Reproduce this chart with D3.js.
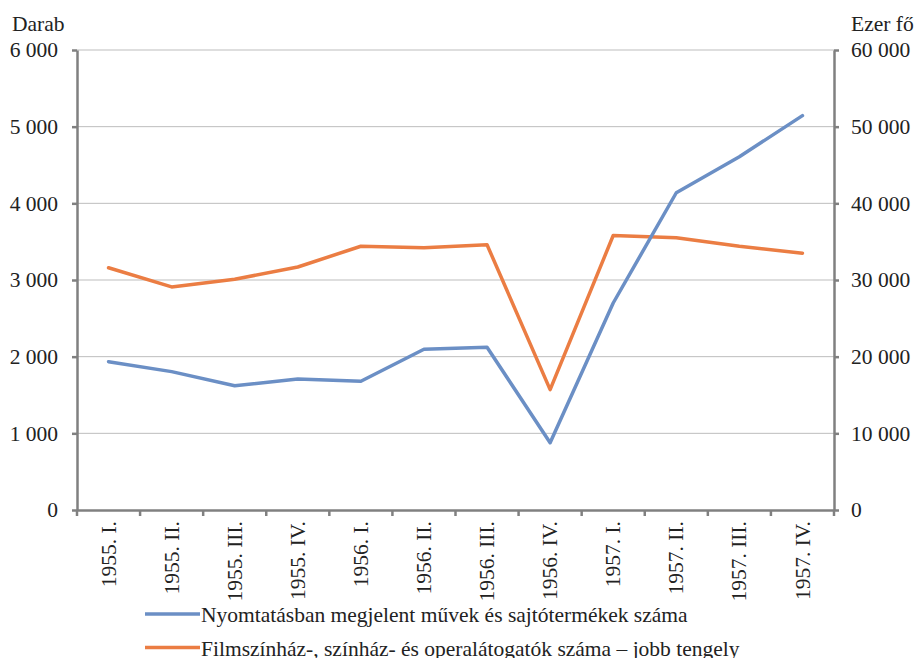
<!DOCTYPE html>
<html lang="hu">
<head>
<meta charset="utf-8">
<title>Nyomtatványok és látogatók</title>
<script src="https://cdn.jsdelivr.net/npm/d3@7/dist/d3.min.js"></script>
<style>
  body { margin: 0; background: #fff; }
  .grid line { stroke: #bdbdbd; stroke-width: 1; }
  .axis path, .axis line { stroke: #808080; stroke-width: 2.5; }
</style>
</head>
<body>
<svg width="914" height="658"></svg>
<script>
// negyedévek
var categories = ["1955. I.", "1955. II.", "1955. III.", "1955. IV.",
                  "1956. I.", "1956. II.", "1956. III.", "1956. IV.",
                  "1957. I.", "1957. II.", "1957. III.", "1957. IV."];
// darab (bal tengely)
var nyomtatvany = [1935, 1805, 1620, 1710, 1680, 2097, 2123, 877, 2700, 4138, 4608, 5144];
// ezer fő (jobb tengely)
var latogatok = [31600, 29100, 30100, 31700, 34400, 34200, 34600, 15700, 35800, 35500, 34400, 33500];
var leftTicks = [0, 1000, 2000, 3000, 4000, 5000, 6000];
var rightTicks = [0, 10000, 20000, 30000, 40000, 50000, 60000];
var seriesNames = ["Nyomtatásban megjelent művek és sajtótermékek száma",
                   "Filmszínház-, színház- és operalátogatók száma – jobb tengely"];
var colors = ["#6b8fc5", "#eb7d43"];

var svg = d3.select("svg");
var mLeft = 77, mRight = 834, mTop = 50, mBottom = 510;
var FONT = "'Liberation Serif', 'Times New Roman', Times, serif";
var FS = 21.5;

var fmt = function(d) { return d3.format(",")(d).replace(/,/g, " "); };

var x = d3.scaleBand().domain(categories).range([mLeft, mRight]);
var y = d3.scaleLinear().domain([0, 6000]).range([mBottom, mTop]);
var y2 = d3.scaleLinear().domain([0, 60000]).range([mBottom, mTop]);

// rácsvonalak
svg.append("g").attr("class", "grid")
  .selectAll("line").data(leftTicks.slice(1)).enter().append("line")
  .attr("x1", mLeft).attr("x2", mRight)
  .attr("y1", function(d) { return y(d); })
  .attr("y2", function(d) { return y(d); });

// bal tengely
var gl = svg.append("g").attr("class", "axis")
  .attr("transform", "translate(" + mLeft + ",0)")
  .call(d3.axisLeft(y).tickValues(leftTicks).tickFormat(fmt).tickSize(5).tickSizeOuter(0).tickPadding(14));

// jobb tengely
var gr = svg.append("g").attr("class", "axis")
  .attr("transform", "translate(" + mRight + ",0)")
  .call(d3.axisRight(y2).tickValues(rightTicks).tickFormat(fmt).tickSize(5).tickSizeOuter(0).tickPadding(12));

// alsó tengely, osztásjelek a sávhatárokon
var gb = svg.append("g").attr("class", "axis")
  .attr("transform", "translate(0," + mBottom + ")")
  .call(d3.axisBottom(x).tickSize(0).tickSizeOuter(0));
gb.selectAll(".tick line").remove();
gb.selectAll(".bound").data(d3.range(categories.length + 1)).enter().append("line")
  .attr("class", "bound")
  .attr("x1", function(i) { return mLeft + i * x.step(); })
  .attr("x2", function(i) { return mLeft + i * x.step(); })
  .attr("y1", 0).attr("y2", 6);
gb.selectAll(".tick text")
  .attr("transform", "rotate(-90)")
  .attr("text-anchor", "end")
  .attr("x", -11).attr("y", 0).attr("dy", "0.33em");

svg.selectAll(".axis").attr("font-family", FONT).attr("font-size", FS);
svg.selectAll(".axis text").attr("fill", "#222");
gl.selectAll("text").attr("dy", "0.32em");
gr.selectAll("text").attr("dy", "0.32em");

// vonalak
var line1 = d3.line()
  .x(function(d, i) { return x(categories[i]) + x.bandwidth() / 2; })
  .y(function(d) { return y(d); });
var line2 = d3.line()
  .x(function(d, i) { return x(categories[i]) + x.bandwidth() / 2; })
  .y(function(d) { return y2(d); });

svg.append("path").datum(latogatok)
  .attr("fill", "none").attr("stroke", colors[1]).attr("stroke-width", 3.5)
  .attr("stroke-linejoin", "round").attr("stroke-linecap", "round")
  .attr("d", line2);
svg.append("path").datum(nyomtatvany)
  .attr("fill", "none").attr("stroke", colors[0]).attr("stroke-width", 3.5)
  .attr("stroke-linejoin", "round").attr("stroke-linecap", "round")
  .attr("d", line1);

// tengelycímek
svg.append("text").attr("x", 12).attr("y", 31)
  .attr("font-family", FONT).attr("font-size", FS).attr("fill", "#222").text("Darab");
svg.append("text").attr("x", 851).attr("y", 31)
  .attr("font-family", FONT).attr("font-size", FS).attr("fill", "#222").text("Ezer fő");

// jelmagyarázat
var leg = svg.append("g").selectAll("g").data(seriesNames).enter().append("g")
  .attr("transform", function(d, i) { return "translate(145," + (614 + i * 33.5) + ")"; });
leg.append("line").attr("x1", 0).attr("x2", 55).attr("y1", 0).attr("y2", 0)
  .attr("stroke", function(d, i) { return colors[i]; }).attr("stroke-width", 3.5);
leg.append("text").attr("x", 56).attr("y", 8)
  .attr("font-family", FONT).attr("font-size", FS).attr("fill", "#222")
  .text(function(d) { return d; });
</script>
</body>
</html>
